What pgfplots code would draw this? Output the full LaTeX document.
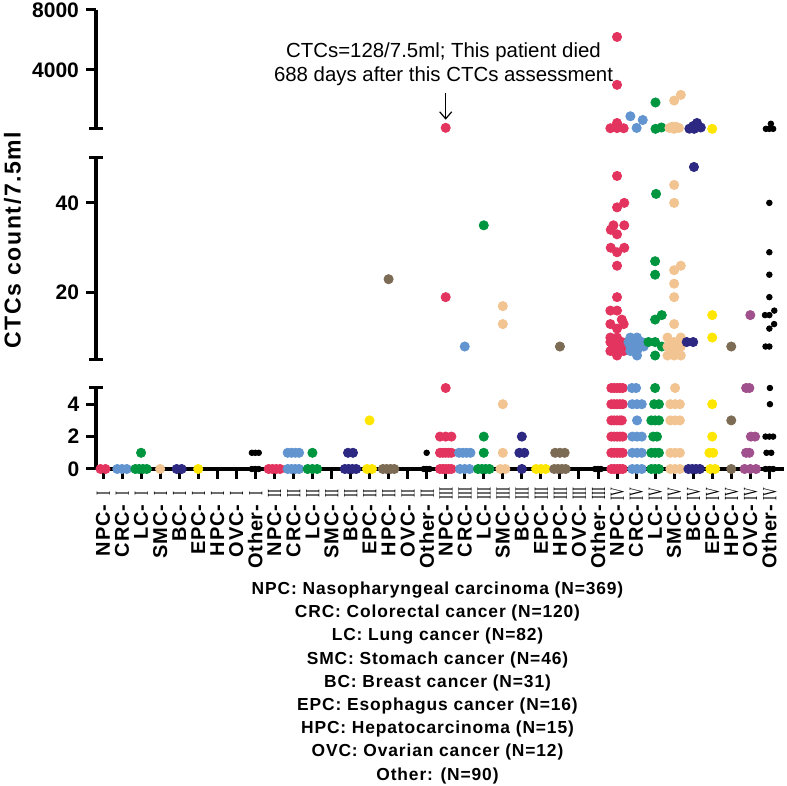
\documentclass[border=0pt]{standalone}
\usepackage{fontspec}
\setmainfont{Liberation Sans}
\newfontfamily\romfont{Liberation Serif}
\newfontfamily\legfont[LetterSpace=5]{Liberation Sans}
\newfontfamily\tickfont[LetterSpace=4]{Liberation Sans}
\newfontfamily\ylabfont[LetterSpace=7]{Liberation Sans}
\usepackage{graphicx}
\usepackage{pgfplots}
\pgfplotsset{compat=1.18}
\usetikzlibrary{arrows.meta}

\definecolor{cNPC}{RGB}{226,52,94}
\definecolor{cCRC}{RGB}{98,148,208}
\definecolor{cLC}{RGB}{0,150,64}
\definecolor{cSMC}{RGB}{242,196,145}
\definecolor{cBC}{RGB}{45,40,130}
\definecolor{cEPC}{RGB}{255,230,0}
\definecolor{cHPC}{RGB}{125,108,85}
\definecolor{cOVC}{RGB}{160,80,140}

\newcommand\xl[2]{\textbf{#1-}\makebox[10pt][c]{\romfont\mdseries\scalebox{0.6}[1]{#2}}}

\pgfplotsset{
  seg/.style={
    scale only axis, width=344pt,
    xmin=-0.368, xmax=35.77, enlargelimits=false, clip=false,
    axis y line*=left,
    y axis line style={line width=1.8pt,-},
    tick style={line width=1.5pt,black},
    major tick length=5pt, tick align=outside,
    scaled y ticks=false,
    yticklabel style={font=\bfseries\fontsize{10.5}{12}\selectfont,
      /pgf/number format/assume math mode=true,
      /pgf/number format/1000 sep={}},
  },
  dot/.style={only marks, mark=*, mark size=2.3pt},
  bdot/.style={only marks, mark=*, mark size=1.4pt, black},
}

\begin{document}
\begin{tikzpicture}

% ---------- bottom segment 0..5 ----------
\begin{axis}[seg, at={(48pt,158.5pt)}, anchor=south west, height=40.5pt,
  ymin=0, ymax=5, ytick={0,2,4},
  axis x line*=bottom, x axis line style={line width=1.8pt,-},
  xtick={0,...,35}, major tick length=4.8pt,
  xticklabel style={rotate=90, anchor=east, inner sep=0pt,
    font=\tickfont\fontsize{10}{11}\selectfont},
  xticklabel shift=2.5pt,
  xticklabels={\xl{NPC}{I},\xl{CRC}{I},\xl{LC}{I},\xl{SMC}{I},\xl{BC}{I},\xl{EPC}{I},\xl{HPC}{I},\xl{OVC}{I},\xl{Other}{I},
    \xl{NPC}{II},\xl{CRC}{II},\xl{LC}{II},\xl{SMC}{II},\xl{BC}{II},\xl{EPC}{II},\xl{HPC}{II},\xl{OVC}{II},\xl{Other}{II},
    \xl{NPC}{III},\xl{CRC}{III},\xl{LC}{III},\xl{SMC}{III},\xl{BC}{III},\xl{EPC}{III},\xl{HPC}{III},\xl{OVC}{III},\xl{Other}{III},
    \xl{NPC}{IV},\xl{CRC}{IV},\xl{LC}{IV},\xl{SMC}{IV},\xl{BC}{IV},\xl{EPC}{IV},\xl{HPC}{IV},\xl{OVC}{IV},\xl{Other}{IV}},
]
\addplot[dot,cNPC] coordinates {(-0.13,0)(0.13,0)
  (8.7,0)(8.9,0)(9.1,0)(9.3,0)
  (17.7,0)(17.85,0)(18,0)(18.15,0)(18.3,0)
  (17.7,1)(17.85,1)(18,1)(18.15,1)(18.3,1)
  (17.7,2)(18,2)(18.3,2)(18,5)
  (26.7,0)(26.85,0)(27,0)(27.15,0)(27.3,0)
  (26.7,1)(26.85,1)(27,1)(27.15,1)(27.3,1)
  (26.7,2)(26.85,2)(27,2)(27.15,2)(27.3,2)
  (26.7,3)(26.85,3)(27,3)(27.15,3)(27.25,3)
  (26.7,4)(26.85,4)(27,4)(27.15,4)(27.3,4)
  (26.7,5)(26.85,5)(27,5)(27.15,5)(27.3,5)};
\addplot[dot,cCRC] coordinates {(0.75,0)(1,0)(1.25,0)
  (9.7,0)(9.9,0)(10.1,0)(10.3,0)
  (9.7,1)(9.9,1)(10.1,1)(10.3,1)
  (18.75,0)(19,0)(19.25,0)
  (18.7,1)(18.9,1)(19.1,1)(19.3,1)
  (27.78,5)(28.0,5)
  (27.8,4)(28.05,4)(28.3,4)
  (28.05,3)
  (27.8,2)(28.05,2)(28.3,2)
  (27.8,1)(28.05,1)(28.3,1)
  (27.8,0)(28.05,0)(28.3,0)};
\addplot[dot,cLC] coordinates {(1.7,0)(1.9,0)(2.1,0)(2.3,0)(2,1)
  (10.75,0)(11,0)(11.25,0)(11,1)
  (19.7,0)(19.9,0)(20.1,0)(20.3,0)(20,1)(20,2)
  (29,5)(28.95,4)(29.2,4)
  (28.8,3)(29,3)(29.2,3)
  (28.9,2)(29.1,2)
  (28.8,1)(29,1)(29.2,1)
  (28.8,0)(29,0)(29.2,0)};
\addplot[dot,cSMC] coordinates {(3,0)
  (20.87,0)(21.13,0)(21,1)(21,4)
  (30.05,5)
  (29.8,4)(30.05,4)(30.3,4)
  (29.8,3)(30.05,3)(30.3,3)
  (29.8,1)(30.05,1)(30.3,1)
  (29.8,0)(30.05,0)(30.3,0)};
\addplot[dot,cBC] coordinates {(3.87,0)(4.13,0)
  (12.7,0)(12.9,0)(13.1,0)(13.3,0)(12.87,1)(13.13,1)
  (22,0)(21.87,1)(22.13,1)(22,2)
  (30.75,0)(30.95,0)(31.15,0)(31.35,0)};
\addplot[dot,cEPC] coordinates {(5,0)
  (13.87,0)(14.13,0)(14,3)
  (22.75,0)(23,0)(23.25,0)
  (32,4)(32,2)(31.85,1)(32.05,1)(31.9,0)(32.15,0)};
\addplot[dot,cHPC] coordinates {(14.7,0)(14.9,0)(15.1,0)(15.3,0)
  (23.7,0)(23.9,0)(24.1,0)(24.3,0)(23.75,1)(24,1)(24.25,1)
  (33,3)(33,0)};
\addplot[dot,cOVC] coordinates {(33.78,5)(33.95,5)
  (34.03,2)(34.25,2)(33.78,1)(33.95,1)
  (33.7,0)(34,0)(34.3,0)};
\addplot[bdot] coordinates {(7.82,0)(8,0)(8.18,0)(7.82,1)(8,1)(8.18,1)
  (16.85,0)(17,0)(17.15,0)(17,1)
  (25.85,0)(26,0)(26.15,0)
  (35.03,5)(35.03,4)(34.8,2)(35,2)(35.2,2)(34.85,1)(35.1,1)
  (34.8,0)(35,0)(35.2,0)};
\draw[line width=1.5pt] ([xshift=-3.5pt]rel axis cs:0,1) -- ([xshift=3.5pt]rel axis cs:0,1);
\end{axis}

% ---------- middle segment 5..50 ----------
\begin{axis}[seg, axis x line=none, at={(48pt,213pt)}, anchor=south west, height=101pt,
  ymin=5, ymax=50, ytick={20,40}]
\addplot[dot,cNPC] coordinates {(18,19)
  (27,46)(27.38,40)(27,39)(26.81,35)(27.38,35)(26.67,34)(27,33)
  (26.67,30)(27.38,30)(27,29)(27,26)(27,19)
  (26.65,16)(27,16)(27.25,14)(26.65,13)(27.35,13)(27,12)
  (26.65,10)(27,10)(26.65,9)(27.25,9)(26.8,8)(27,8)(27.3,8)
  (26.65,7)(27,7)(27.35,7)(27,6)};
\addplot[dot,cCRC] coordinates {(19,8)
  (27.7,10)(28.05,10)(27.6,9)(27.95,9)(28.3,9)
  (27.7,8)(28.05,8)(28.4,8)(27.7,7)(28.05,7)(28.05,6)};
\addplot[dot,cLC] coordinates {(20,35)
  (29.05,42)(29,27)(29,24)(29.35,15)(29,14)
  (28.65,9)(29,9)(29.35,8)(29,6)};
\addplot[dot,cSMC] coordinates {(21,17)(21,13)
  (30,44)(30,40)(30.35,26)(30,25)(30,22)(30,19)(30,13)
  (29.65,10)(30.35,10)(30,9)(29.65,8)(30,8)(30.35,8)(30,7)
  (29.65,6)(30,6)(30.35,6)};
\addplot[dot,cBC] coordinates {(31.04,48)(30.66,9)(31,9)};
\addplot[dot,cEPC] coordinates {(32,15)(32,10)};
\addplot[dot,cHPC] coordinates {(15,23)(24,8)(33,8)};
\addplot[dot,cOVC] coordinates {(34,15)};
\addplot[bdot] coordinates {(35,40)(35,29)(35,24)(35,19)(35.26,16)
  (34.77,15)(35,15)(35.25,13)(35,12)(34.8,8)(35,8)};
\draw[line width=1.5pt] ([xshift=-3.5pt]rel axis cs:0,1) -- ([xshift=3.5pt]rel axis cs:0,1);
\draw[line width=1.5pt] ([xshift=-3.5pt]rel axis cs:0,0) -- ([xshift=3.5pt]rel axis cs:0,0);
\end{axis}

% ---------- top segment 50..8000 ----------
\begin{axis}[seg, axis x line=none, at={(48pt,328.5pt)}, anchor=south west, height=59.5pt,
  ymin=50, ymax=8000, ytick={4000,8000}]
\addplot[dot,cNPC] coordinates {(18,128)
  (27,6200)(27,3000)(26.65,100)(27,110)(27.35,100)(27,450)};
\addplot[dot,cCRC] coordinates {(27.7,900)(28.35,650)(28.03,120)};
\addplot[dot,cLC] coordinates {(29.02,1820)(29.02,60)(29.33,150)};
\addplot[dot,cSMC] coordinates {(30.35,2330)(30,1950)
  (29.75,120)(29.9,200)(30.1,200)(30.25,120)(30,60)};
\addplot[dot,cBC] coordinates {(30.8,70)(31.0,250)(31.2,450)(31.4,150)(31.05,60)};
\addplot[dot,cEPC] coordinates {(32,60)};
\addplot[bdot] coordinates {(34.82,60)(35,60)(35.2,60)(35.08,400)};
\draw[line width=1.5pt] ([xshift=-3.5pt]rel axis cs:0,0) -- ([xshift=3.5pt]rel axis cs:0,0);
\draw[line width=0.6pt,-{Straight Barb[length=3.5pt,width=6pt]}] (axis cs:18,2470) -- (axis cs:18,670);
\end{axis}

% ---------- texts ----------
\node[rotate=90, font=\ylabfont\bfseries\fontsize{11.5}{13}\selectfont] at (6.25pt,273pt) {CTCs count/7.5ml};
\node[anchor=base, inner sep=0pt, font=\fontsize{10.2}{12}\selectfont] at (221.75pt,364pt) {CTCs=128/7.5ml; This patient died};
\node[anchor=base, inner sep=0pt, font=\fontsize{10.2}{12}\selectfont] at (221.75pt,352pt) {688 days after this CTCs assessment};

\begin{scope}[every node/.style={anchor=base, inner sep=0pt, font=\legfont\bfseries\fontsize{8.7}{10}\selectfont}]
\node at (218.75pt,95.75pt) {NPC: Nasopharyngeal carcinoma (N=369)};
\node at (218.75pt,84.15pt) {CRC: Colorectal cancer (N=120)};
\node at (218.75pt,72.55pt) {LC: Lung cancer (N=82)};
\node at (218.75pt,60.95pt) {SMC: Stomach cancer (N=46)};
\node at (218.75pt,49.35pt) {BC: Breast cancer (N=31)};
\node at (218.75pt,37.75pt) {EPC: Esophagus cancer (N=16)};
\node at (218.75pt,26.15pt) {HPC: Hepatocarcinoma (N=15)};
\node at (218.75pt,14.55pt) {OVC: Ovarian cancer (N=12)};
\node at (218.75pt,2.95pt) {Other: (N=90)};
\end{scope}

\pgfresetboundingbox
\useasboundingbox (0,0) rectangle (393.5pt,393pt);
\end{tikzpicture}
\end{document}
